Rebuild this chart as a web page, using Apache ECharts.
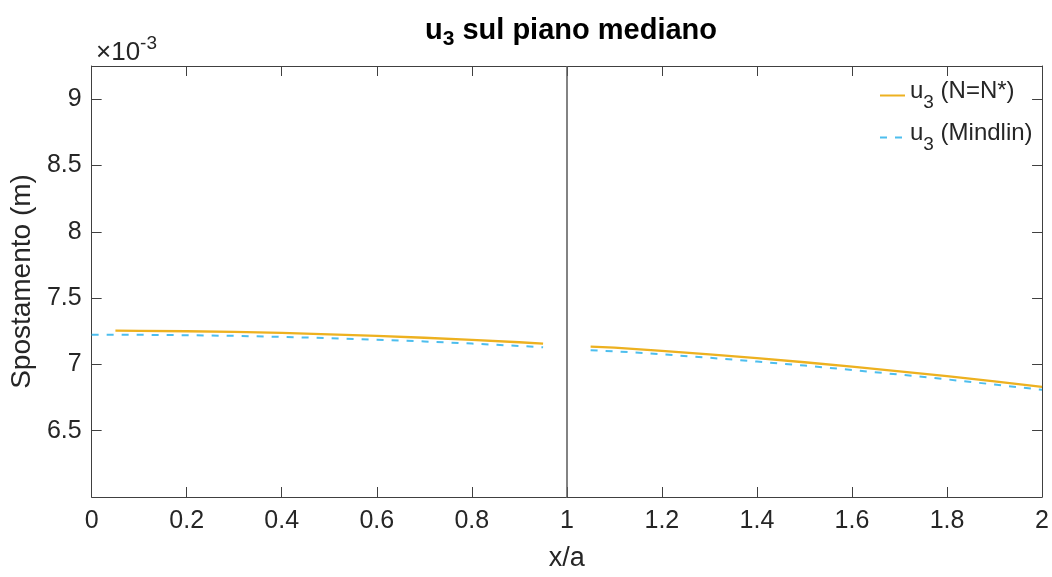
<!DOCTYPE html>
<html>
<head>
<meta charset="utf-8">
<script src="https://cdn.jsdelivr.net/npm/echarts@6/dist/echarts.min.js"></script>
<style>
  html, body { margin: 0; padding: 0; background: #fff; }
  #chart { width: 1052px; height: 577px; }
</style>
</head>
<body>
<div id="chart"></div>
<script>
// x/a positions and vertical displacement u3 (in units of 1e-3 m)
const xLeftN  = [0.05, 0.1, 0.2, 0.3, 0.4, 0.5, 0.6, 0.7, 0.8, 0.9, 0.95];
const u3LeftN = [7.254, 7.253, 7.250, 7.245, 7.237, 7.227, 7.215, 7.201, 7.185, 7.167, 7.157];
const xRightN  = [1.05, 1.1, 1.2, 1.3, 1.4, 1.5, 1.6, 1.7, 1.8, 1.9, 2.0];
const u3RightN = [7.134, 7.126, 7.102, 7.076, 7.047, 7.016, 6.983, 6.948, 6.911, 6.872, 6.831];

const xLeftM  = [0, 0.1, 0.2, 0.3, 0.4, 0.5, 0.6, 0.7, 0.8, 0.9, 0.95];
const u3LeftM = [7.224, 7.223, 7.220, 7.215, 7.207, 7.198, 7.186, 7.173, 7.157, 7.139, 7.129];
const xRightM  = [1.05, 1.1, 1.2, 1.3, 1.4, 1.5, 1.6, 1.7, 1.8, 1.9, 2.0];
const u3RightM = [7.106, 7.099, 7.076, 7.050, 7.021, 6.991, 6.958, 6.923, 6.887, 6.848, 6.808];

const yTickLabels = ['6.5', '7', '7.5', '8', '8.5', '9'];

const NAME_N = 'u3 (N=N*)';
const NAME_M = 'u3 (Mindlin)';

const FONT = 'Liberation Sans, Arial, Helvetica, sans-serif';
const INK = '#262626';
const AXIS = '#404040';
const YELLOW = '#EDB120';
const CYAN = '#4DBEEE';

const pairs = (xs, ys) => xs.map((x, i) => [x, ys[i]]);

const chart = echarts.init(document.getElementById('chart'), null, { renderer: 'canvas' });

// subscripts: the small token sits at the bottom of a slightly taller line box
const legendRich = {
  m: { fontSize: 24, fontFamily: FONT, color: INK, lineHeight: 26, verticalAlign: 'top' },
  s: { fontSize: 19, fontFamily: FONT, color: INK, lineHeight: 33, verticalAlign: 'bottom' }
};

const option = {
  animation: false,
  backgroundColor: '#fff',
  title: [
    {
      text: '{m|u}{s|3}{m| sul piano mediano}',
      left: 566, top: 11, textAlign: 'center',
      textStyle: {
        rich: {
          m: { fontSize: 29, fontWeight: 'bold', fontFamily: FONT, color: '#000', lineHeight: 30, verticalAlign: 'top' },
          s: { fontSize: 21, fontWeight: 'bold', fontFamily: FONT, color: '#000', lineHeight: 34, verticalAlign: 'bottom' }
        }
      }
    },
    {
      text: '{m|×10}{e|-3}',
      left: 91, top: 29,
      textStyle: {
        fontWeight: 'normal',
        rich: {
          m: { fontSize: 26, fontWeight: 'normal', fontFamily: FONT, color: INK, lineHeight: 32, verticalAlign: 'bottom' },
          e: { fontSize: 19, fontWeight: 'normal', fontFamily: FONT, color: INK, lineHeight: 20, verticalAlign: 'top' }
        }
      }
    }
  ],
  legend: {
    data: [NAME_N, NAME_M],
    orient: 'vertical',
    left: 874, top: 74,
    itemWidth: 25, itemHeight: 14, itemGap: 9,
    itemStyle: { opacity: 0, borderWidth: 0 },
    formatter: name => name === NAME_N ? '{m|u}{s|3}{m| (N=N*)}' : '{m|u}{s|3}{m| (Mindlin)}',
    textStyle: { rich: legendRich, padding: [0, 0, 0, 0] }
  },
  grid: { left: 91, right: 8, top: 66, bottom: 75, containLabel: false },
  xAxis: [
    {
      type: 'value', min: 0, max: 2, interval: 0.2,
      name: 'x/a', nameLocation: 'middle', nameGap: 48,
      nameTextStyle: { fontSize: 27, fontFamily: FONT, color: INK },
      axisLine: { show: true, onZero: false, lineStyle: { color: AXIS, width: 1 } },
      axisTick: { show: true, inside: true, length: 10, lineStyle: { color: AXIS } },
      axisLabel: { fontSize: 25, fontFamily: FONT, color: INK, margin: 12 },
      splitLine: { show: false }
    },
    {
      type: 'value', min: 0, max: 2, interval: 0.2, position: 'top',
      axisLine: { show: true, onZero: false, lineStyle: { color: AXIS, width: 1 } },
      axisTick: { show: true, inside: true, length: 10, lineStyle: { color: AXIS } },
      axisLabel: { show: false },
      splitLine: { show: false }
    }
  ],
  yAxis: [
    {
      type: 'value', min: 6, max: 9.25, interval: 0.5,
      name: 'Spostamento (m)', nameLocation: 'middle', nameGap: 47, nameRotate: 90,
      nameTextStyle: { fontSize: 28, fontFamily: FONT, color: INK },
      axisLine: { show: true, onZero: false, lineStyle: { color: AXIS, width: 1 } },
      axisTick: { show: true, inside: true, length: 10, lineStyle: { color: AXIS } },
      axisLabel: {
        fontSize: 25, fontFamily: FONT, color: INK, margin: 10,
        showMinLabel: false, showMaxLabel: false,
        formatter: v => {
          const s = String(Math.round(v * 100) / 100);
          return yTickLabels.includes(s) ? s : '';
        }
      },
      splitLine: { show: false }
    },
    {
      type: 'value', min: 6, max: 9.25, interval: 0.5, position: 'right',
      axisLine: { show: true, onZero: false, lineStyle: { color: AXIS, width: 1 } },
      axisTick: { show: true, inside: true, length: 10, lineStyle: { color: AXIS } },
      axisLabel: { show: false },
      splitLine: { show: false }
    }
  ],
  series: [
    {
      name: NAME_N, type: 'line', data: pairs(xLeftN, u3LeftN),
      symbol: 'none', z: 3,
      lineStyle: { color: YELLOW, width: 2.3 }, itemStyle: { color: YELLOW },
      markLine: {
        silent: true, symbol: 'none', label: { show: false },
        lineStyle: { color: '#5a5a5a', width: 1.5, type: 'solid' },
        data: [{ xAxis: 1 }]
      }
    },
    {
      name: NAME_N, type: 'line', data: pairs(xRightN, u3RightN),
      symbol: 'none', z: 3,
      lineStyle: { color: YELLOW, width: 2.3 }, itemStyle: { color: YELLOW }
    },
    {
      name: NAME_M, type: 'line', data: pairs(xLeftM, u3LeftM),
      symbol: 'none', z: 4,
      lineStyle: { color: CYAN, width: 2, type: [7, 8] }, itemStyle: { color: CYAN }
    },
    {
      name: NAME_M, type: 'line', data: pairs(xRightM, u3RightM),
      symbol: 'none', z: 4,
      lineStyle: { color: CYAN, width: 2, type: [7, 8] }, itemStyle: { color: CYAN }
    }
  ]
};

chart.setOption(option);
</script>
</body>
</html>
